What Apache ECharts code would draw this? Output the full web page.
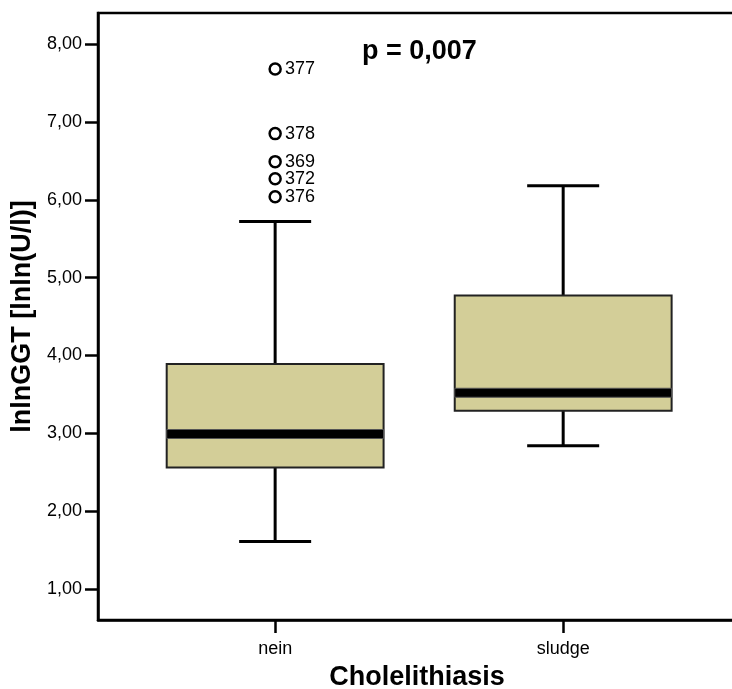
<!DOCTYPE html>
<html>
<head>
<meta charset="utf-8">
<script src="https://cdn.jsdelivr.net/npm/echarts@6/dist/echarts.min.js"></script>
<style>
  html, body { margin: 0; padding: 0; background: #fff; }
  #chart { width: 732px; height: 689px; }
</style>
</head>
<body>
<div id="chart"></div>
<script>
// Kategorien auf der x-Achse (Positionen 1 und 2)
const categories = ['nein', 'sludge'];
const catPos = [1, 2];
// Boxplot-Kennwerte: unterer Whisker, Q1, Median, Q3, oberer Whisker
const whiskerLow = [1.61, 2.84];
const q1 = [2.56, 3.29];
const median = [2.99, 3.52];
const q3 = [3.89, 4.77];
const whiskerHigh = [5.72, 6.18];
// Ausreisser (Gruppe nein)
const outlierValues = [7.68, 6.85, 6.49, 6.27, 6.04];
const outlierIds = ['377', '378', '369', '372', '376'];
// Achsenbeschriftung
const yTicks = [1, 2, 3, 4, 5, 6, 7, 8];

const font = 'Liberation Sans, Arial, Helvetica, sans-serif';
const boxWidth = 0.753;   // in x-Einheiten
const capWidth = 0.25;

const boxData = catPos.map((x, i) => [x, whiskerLow[i], q1[i], median[i], q3[i], whiskerHigh[i]]);
const outlierData = outlierValues.map((v, i) => ({ value: [catPos[0], v], id: outlierIds[i] }));

const chart = echarts.init(document.getElementById('chart'));

function renderBox(params, api) {
  const x = api.value(0);
  const pLow = api.coord([x, api.value(1)]);
  const pQ1 = api.coord([x, api.value(2)]);
  const pMed = api.coord([x, api.value(3)]);
  const pQ3 = api.coord([x, api.value(4)]);
  const pHigh = api.coord([x, api.value(5)]);
  const hb = api.size([boxWidth, 0])[0] / 2;
  const hc = api.size([capWidth, 0])[0] / 2;
  const line = { stroke: '#000', lineWidth: 3 };
  return {
    type: 'group',
    children: [
      { type: 'line', shape: { x1: pQ3[0], y1: pQ3[1], x2: pHigh[0], y2: pHigh[1] }, style: line },
      { type: 'line', shape: { x1: pHigh[0] - hc, y1: pHigh[1], x2: pHigh[0] + hc, y2: pHigh[1] }, style: line },
      { type: 'line', shape: { x1: pQ1[0], y1: pQ1[1], x2: pLow[0], y2: pLow[1] }, style: line },
      { type: 'line', shape: { x1: pLow[0] - hc, y1: pLow[1], x2: pLow[0] + hc, y2: pLow[1] }, style: line },
      {
        type: 'rect',
        shape: { x: pQ3[0] - hb, y: pQ3[1], width: hb * 2, height: pQ1[1] - pQ3[1] },
        style: { fill: '#d3ce98', stroke: '#222', lineWidth: 2 }
      },
      {
        type: 'rect',
        shape: { x: pMed[0] - hb, y: pMed[1] - 4.5, width: hb * 2, height: 9 },
        style: { fill: '#000', stroke: '#555', lineWidth: 1 }
      }
    ]
  };
}

const option = {
  animation: false,
  backgroundColor: '#fff',
  textStyle: { fontFamily: font },
  title: {
    text: 'p = 0,007',
    left: 357,
    top: 33,
    textStyle: { fontFamily: font, fontSize: 27, fontWeight: 'bold', color: '#000' }
  },
  grid: {
    left: 98,
    right: -4,
    top: 13,
    bottom: 69,
    outerBoundsMode: 'none',
    containLabel: false,
    show: true,
    borderColor: '#000',
    borderWidth: 2.5
  },
  xAxis: {
    type: 'value',
    min: 0.385,
    max: 2.6,
    name: 'Cholelithiasis',
    nameLocation: 'middle',
    nameGap: 44,
    nameTextStyle: { fontFamily: font, fontSize: 27, fontWeight: 'bold', color: '#000' },
    splitLine: { show: false },
    axisLine: { show: true, lineStyle: { color: '#000', width: 2.5 } },
    axisTick: { show: true, inside: false, length: 13, customValues: catPos, lineStyle: { color: '#000', width: 2.5 } },
    axisLabel: {
      customValues: catPos,
      margin: 20,
      fontFamily: font,
      fontSize: 18,
      color: '#000',
      formatter: v => categories[catPos.indexOf(v)] || ''
    }
  },
  yAxis: {
    type: 'value',
    min: 0.6,
    max: 8.4,
    name: 'lnlnGGT [lnln(U/l)]',
    nameLocation: 'middle',
    nameRotate: 90,
    nameGap: 57,
    nameTextStyle: { fontFamily: font, fontSize: 27, fontWeight: 'bold', color: '#000' },
    splitLine: { show: false },
    axisLine: { show: true, lineStyle: { color: '#000', width: 2.5 } },
    axisTick: { show: true, inside: false, length: 13, customValues: yTicks, lineStyle: { color: '#000', width: 2.5 } },
    axisLabel: {
      customValues: yTicks,
      margin: 16,
      fontFamily: font,
      fontSize: 18,
      color: '#000',
      formatter: v => v.toFixed(2).replace('.', ',')
    }
  },
  series: [
    {
      type: 'custom',
      renderItem: renderBox,
      data: boxData,
      encode: { x: 0, y: [1, 2, 3, 4, 5] },
      z: 2
    },
    {
      type: 'scatter',
      data: outlierData,
      symbol: 'circle',
      symbolSize: 11,
      itemStyle: { color: '#fff', borderColor: '#000', borderWidth: 2.5, opacity: 1 },
      label: {
        show: true,
        position: 'right',
        distance: 3,
        fontFamily: font,
        fontSize: 18,
        color: '#000',
        formatter: p => p.data.id
      },
      z: 3
    }
  ]
};

chart.setOption(option);
</script>
</body>
</html>
